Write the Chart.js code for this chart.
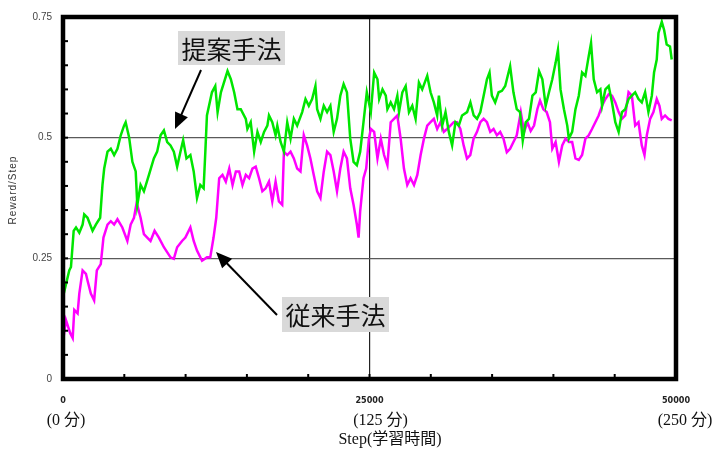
<!DOCTYPE html>
<html>
<head>
<meta charset="utf-8">
<script src="https://cdn.jsdelivr.net/npm/chart.js@4.4.0/dist/chart.umd.min.js"></script>
<style>
html,body{margin:0;padding:0;background:#fff;}
canvas{display:block;}
</style>
</head>
<body>
<canvas id="c" width="717" height="451"></canvas>
<script>
// ---- data ----
const proposedSteps = [0,510,650,870,1060,1330,1600,1730,2000,2410,2680,3030,3220,3360,3630,3900,4170,4440,4710,4980,5110,5390,5660,5930,6060,6330,6600,7010,7410,7680,7960,8230,8500,8770,9040,9310,9580,9800,10070,10390,10660,10930,11200,11470,11610,11740,12150,12420,12610,12880,13420,13690,13960,14230,14500,14910,15040,15310,15590,15860,16130,16400,16670,16800,17070,17340,17480,17750,18020,18290,18560,18830,19100,19510,19780,20050,20320,20590,20730,21000,21270,21540,21810,22080,22350,22620,22890,23160,23430,23700,23970,24240,24510,24780,25110,25380,25650,25790,26060,26330,26460,26730,27000,27270,27410,27680,27950,28220,28490,28760,29030,29300,29710,29980,30250,30520,30660,30930,31200,31470,31740,32010,32280,32550,32960,33230,33500,33770,34040,34310,34580,34790,34980,35250,35530,35800,36070,36340,36470,36740,37010,37280,37500,37740,38010,38290,38560,38830,39100,39370,39640,39910,40180,40370,40580,40860,41130,41260,41530,41800,42070,42340,42610,42880,43070,43290,43560,43830,43970,44240,44510,44780,45050,45320,45590,45860,46130,46400,46670,46940,47210,47480,47750,48030,48210,48430,48570,48840,49030,49240,49510,49650];
const proposedValues = [0.170,0.225,0.232,0.307,0.314,0.303,0.320,0.341,0.334,0.307,0.320,0.334,0.402,0.436,0.471,0.477,0.464,0.477,0.505,0.525,0.532,0.501,0.450,0.430,0.361,0.402,0.389,0.423,0.457,0.471,0.505,0.515,0.491,0.484,0.471,0.440,0.471,0.495,0.457,0.464,0.430,0.375,0.402,0.395,0.471,0.546,0.594,0.607,0.553,0.594,0.638,0.621,0.594,0.559,0.559,0.539,0.518,0.532,0.471,0.512,0.491,0.512,0.525,0.546,0.532,0.505,0.525,0.491,0.471,0.532,0.498,0.539,0.525,0.553,0.580,0.566,0.580,0.607,0.559,0.539,0.566,0.553,0.566,0.512,0.539,0.587,0.611,0.594,0.498,0.450,0.443,0.471,0.532,0.594,0.553,0.635,0.621,0.580,0.600,0.587,0.559,0.573,0.559,0.587,0.553,0.594,0.607,0.553,0.566,0.539,0.614,0.600,0.628,0.594,0.573,0.546,0.587,0.525,0.553,0.512,0.484,0.532,0.525,0.546,0.553,0.573,0.546,0.539,0.553,0.587,0.621,0.635,0.587,0.573,0.594,0.597,0.607,0.635,0.648,0.594,0.559,0.553,0.494,0.532,0.539,0.587,0.594,0.638,0.621,0.566,0.594,0.621,0.655,0.682,0.600,0.559,0.525,0.498,0.512,0.559,0.587,0.635,0.628,0.669,0.696,0.621,0.594,0.600,0.566,0.600,0.607,0.573,0.532,0.512,0.553,0.559,0.580,0.587,0.594,0.580,0.573,0.594,0.553,0.587,0.635,0.662,0.717,0.740,0.723,0.693,0.689,0.662];

const conventionalSteps = [0,240,590,790,920,1190,1330,1600,1870,2000,2270,2540,2760,3080,3300,3630,3900,4170,4440,4840,5250,5520,5790,6010,6330,6600,6870,7140,7470,7820,8230,8770,9040,9310,9710,9980,10390,10660,10930,11340,11740,12010,12280,12500,12740,13010,13280,13560,13830,14100,14370,14640,14910,15180,15450,15720,15990,16260,16530,16800,17070,17340,17610,17880,18020,18290,18560,18830,19100,19370,19640,19910,20180,20450,20730,21000,21270,21540,21810,22080,22350,22620,22890,23160,23430,23700,23970,24110,24240,24510,24730,24950,25110,25380,25650,25920,26190,26460,26730,27000,27270,27540,27810,28080,28350,28630,28900,29170,29440,29710,29980,30250,30520,30790,31060,31330,31600,31870,32140,32410,32680,32950,33220,33490,33770,34040,34310,34580,34850,35120,35390,35660,35930,36200,36470,36740,37010,37340,37610,37880,38150,38420,38690,38910,39180,39450,39720,39910,40180,40450,40720,40990,41260,41530,41800,42070,42340,42610,42880,43150,43420,43690,43970,44240,44510,44780,45050,45320,45590,45860,46130,46400,46670,46940,47210,47430,47620,47890,48160,48430,48650,48840,49110,49380,49650];
const conventionalValues = [0.078,0.122,0.095,0.085,0.143,0.136,0.177,0.225,0.218,0.204,0.177,0.163,0.225,0.238,0.293,0.320,0.327,0.320,0.331,0.314,0.286,0.320,0.334,0.365,0.334,0.300,0.293,0.286,0.307,0.293,0.273,0.252,0.249,0.273,0.286,0.293,0.314,0.286,0.266,0.245,0.252,0.252,0.293,0.334,0.416,0.423,0.409,0.436,0.402,0.430,0.430,0.402,0.423,0.416,0.436,0.440,0.416,0.389,0.395,0.409,0.368,0.409,0.368,0.361,0.471,0.464,0.471,0.457,0.436,0.430,0.505,0.484,0.457,0.423,0.389,0.375,0.430,0.471,0.464,0.430,0.389,0.436,0.471,0.457,0.395,0.361,0.320,0.293,0.348,0.416,0.436,0.498,0.518,0.512,0.457,0.498,0.464,0.443,0.532,0.539,0.546,0.498,0.436,0.402,0.416,0.402,0.423,0.464,0.498,0.525,0.532,0.539,0.518,0.532,0.512,0.518,0.525,0.532,0.532,0.518,0.484,0.457,0.464,0.498,0.512,0.532,0.539,0.532,0.512,0.518,0.505,0.512,0.498,0.470,0.477,0.491,0.505,0.553,0.512,0.532,0.514,0.525,0.559,0.577,0.559,0.553,0.532,0.477,0.491,0.450,0.484,0.498,0.491,0.491,0.457,0.454,0.464,0.498,0.505,0.518,0.532,0.546,0.566,0.580,0.590,0.587,0.573,0.553,0.539,0.546,0.594,0.587,0.525,0.532,0.484,0.464,0.505,0.539,0.553,0.580,0.566,0.539,0.546,0.539,0.536];

const yTickLabels = {0: '0', 0.25: '0.25', 0.5: '0.5', 0.75: '0.75'};
const xTickLabels = {0: '0', 25000: '25000', 50000: '50000'};
const xSubLabels = [[0, '(0 分)'], [25000, '(125 分)'], [50000, '(250 分)']];
const xTitle = 'Step(学習時間)';
const yTitle = 'Reward/Step';
const labelProposed = '提案手法';
const labelConventional = '従来手法';

function near(a, b) { return Math.abs(a - b) < 1e-6; }
function findLabel(map, v) {
  for (const k in map) if (near(+k, v)) return map[k];
  return '';
}

const deco = {
  id: 'deco',
  afterDraw(chart) {
    const ctx = chart.ctx, a = chart.chartArea, xs = chart.scales.x, ys = chart.scales.y;
    ctx.save();
    // minor tick marks inside the frame
    ctx.strokeStyle = '#000';
    ctx.lineWidth = 2;
    ys.ticks.forEach(t => {
      const py = ys.getPixelForValue(t.value);
      ctx.beginPath(); ctx.moveTo(a.left, py); ctx.lineTo(a.left + 5, py); ctx.stroke();
    });
    xs.ticks.forEach(t => {
      const px = xs.getPixelForValue(t.value);
      ctx.beginPath(); ctx.moveTo(px, a.bottom); ctx.lineTo(px, a.bottom - 5); ctx.stroke();
    });
    // frame
    ctx.lineWidth = 4.5;
    ctx.strokeRect(a.left, a.top, a.right - a.left, a.bottom - a.top);

    // sub labels under the x ticks
    ctx.fillStyle = '#111';
    ctx.textAlign = 'center';
    ctx.textBaseline = 'middle';
    ctx.font = '16px "Liberation Serif", "Noto Sans CJK JP", serif';
    const offs = [3, 11, 9];
    xSubLabels.forEach((s, i) => {
      ctx.fillText(s[1], xs.getPixelForValue(s[0]) + offs[i], 421);
    });
    ctx.fillText(xTitle, 390, 440);

    // y title
    ctx.save();
    ctx.translate(13, 190);
    ctx.rotate(-Math.PI / 2);
    ctx.font = '10px "Liberation Sans", Arial, sans-serif';
    ctx.letterSpacing = '1px';
    ctx.fillStyle = '#333';
    ctx.fillText(yTitle, 0, 0);
    ctx.restore();

    // annotation boxes
    function box(text, x0, y0, w, h) {
      ctx.fillStyle = '#d9d9d9';
      ctx.fillRect(x0, y0, w, h);
      ctx.fillStyle = '#111';
      ctx.font = '25px "Noto Sans CJK JP", sans-serif';
      ctx.textAlign = 'center';
      ctx.textBaseline = 'middle';
      ctx.fillText(text, x0 + w / 2, y0 + h / 2 + 1);
    }
    function arrow(x1, y1, x2, y2) {
      const ang = Math.atan2(y2 - y1, x2 - x1), c = Math.cos(ang), s = Math.sin(ang);
      const L = 16, W = 7;
      ctx.strokeStyle = '#000';
      ctx.fillStyle = '#000';
      ctx.lineWidth = 2;
      ctx.beginPath();
      ctx.moveTo(x1, y1);
      ctx.lineTo(x2 - L * 0.8 * c, y2 - L * 0.8 * s);
      ctx.stroke();
      ctx.beginPath();
      ctx.moveTo(x2, y2);
      ctx.lineTo(x2 - L * c + W * s, y2 - L * s - W * c);
      ctx.lineTo(x2 - L * c - W * s, y2 - L * s + W * c);
      ctx.closePath();
      ctx.fill();
    }
    box(labelProposed, 178, 31, 107, 34);
    box(labelConventional, 282, 297, 107, 35);
    arrow(201, 70, 175, 129);
    arrow(277, 315, 216, 252);
    ctx.restore();
  }
};

new Chart(document.getElementById('c'), {
  type: 'line',
  data: {
    datasets: [
      {
        label: labelProposed,
        data: proposedSteps.map((s, i) => ({x: s, y: proposedValues[i]})),
        borderColor: '#00e600',
        borderWidth: 2.5,
        pointRadius: 0,
        tension: 0,
        fill: false
      },
      {
        label: labelConventional,
        data: conventionalSteps.map((s, i) => ({x: s, y: conventionalValues[i]})),
        borderColor: '#ff00ff',
        borderWidth: 2.5,
        pointRadius: 0,
        tension: 0,
        fill: false
      }
    ]
  },
  options: {
    responsive: false,
    devicePixelRatio: 1,
    animation: false,
    layout: {padding: {left: 0, top: 14, right: 41, bottom: 0}},
    plugins: {legend: {display: false}, tooltip: {enabled: false}},
    scales: {
      x: {
        type: 'linear',
        min: 0, max: 50000,
        afterFit: s => { s.height = 72; },
        border: {display: false},
        grid: {
          drawTicks: false,
          color: c => near(c.tick.value, 25000) ? '#222' : 'rgba(0,0,0,0)',
          lineWidth: 1.2
        },
        ticks: {
          stepSize: 5000,
          autoSkip: false,
          maxRotation: 0,
          padding: 16,
          color: '#222',
          font: {family: '"DejaVu Sans Condensed", "DejaVu Sans", sans-serif', size: 9, weight: 'bold'},
          callback: v => findLabel(xTickLabels, v)
        }
      },
      y: {
        min: 0, max: 0.75,
        afterFit: s => { s.width = 63; },
        border: {display: false},
        grid: {
          drawTicks: false,
          color: c => (near(c.tick.value, 0.25) || near(c.tick.value, 0.5)) ? '#5a5a5a' : 'rgba(0,0,0,0)',
          lineWidth: 1.3
        },
        ticks: {
          stepSize: 0.05,
          autoSkip: false,
          padding: 11,
          color: '#444',
          font: {family: '"Liberation Sans", Arial, sans-serif', size: 10},
          callback: v => findLabel(yTickLabels, v)
        }
      }
    }
  },
  plugins: [deco]
});
</script>
</body>
</html>
